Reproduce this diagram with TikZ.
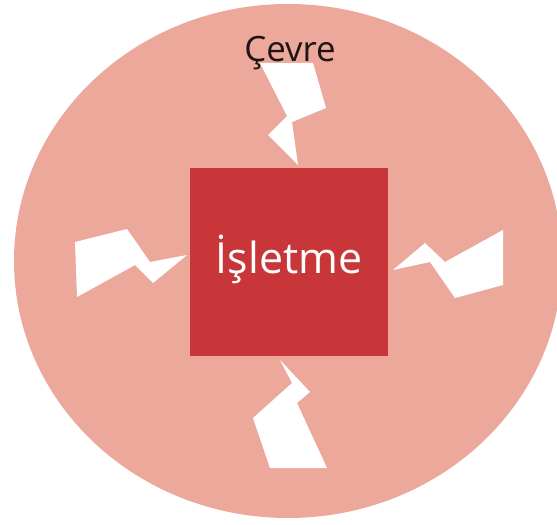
\documentclass[tikz,border=0pt]{standalone}
\usepackage{fontspec}
\setmainfont{Open Sans}
\usetikzlibrary{shapes}
\usetikzlibrary{positioning}
\definecolor{cevrepink}{RGB}{236,168,154}
\definecolor{firmred}{RGB}{200,54,58}
\definecolor{inkdark}{RGB}{30,20,20}

\begin{document}
\begin{tikzpicture}[x=1bp,y=-1bp,
  firm/.style={
    rectangle,
    fill=firmred,
    minimum width=198bp,
    minimum height=188bp,
    inner sep=0pt,
    text=white,
    text height=22bp,
    text depth=0bp,
    font=\fontsize{43}{48}\selectfont},
  envtext/.style={
    anchor=base,
    inner sep=0pt,
    text=inkdark,
    font=\fontsize{35}{40}\selectfont},
  bolt/.style={fill=white}]
  \clip (0,0) rectangle (557,525);
  % draw environment
  \fill[cevrepink] (288,261) ellipse [x radius=274, y radius=257];
  % draw firm box and labels
  \node[firm] (isletme) at (289,262) {İşletme};
  \node[envtext] (cevre) at (290,62) {Çevre};
  % draw bolts from environment to firm
  \fill[bolt] (260,63) -- (313,63) -- (326,108) -- (292,122) -- (298,165)
    -- (268,135) -- (287,116) -- cycle;
  \fill[bolt] (75,242) -- (127,229) -- (150,262) -- (187,255) -- (153,283)
    -- (135,265) -- (77,297) -- cycle;
  \fill[bolt] (393,270) -- (425,243) -- (445,262) -- (503,230) -- (503,285)
    -- (455,298) -- (430,262) -- cycle;
  \fill[bolt] (280,360) -- (310,392) -- (297,403) -- (327,468) -- (270,468)
    -- (253,418) -- (292,383) -- cycle;
\end{tikzpicture}
\end{document}
